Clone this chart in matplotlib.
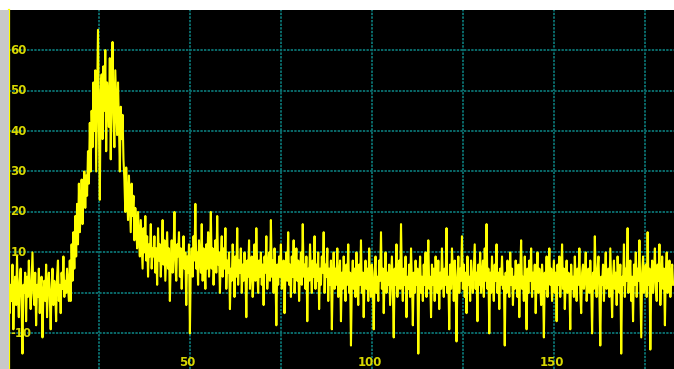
import matplotlib.pyplot as plt
from matplotlib.patches import Rectangle
import numpy as np

# sample spacing along x (four readings per unit)
step = 0.25

# x = 0 .. 17, flat noisy start
start = [0, 5, -5, 2, -2, 7, -9, 1, 4, -3, 9, -1, -6, 3, 6, -2, -15, 2, 0, 5,
         -7, 4, -1, 8, 1, -4, 3, 10, 0, -3, 5, -8, 2, -1, 6, -5, 1, 4, -11, 0,
         3, -2, 7, -6, 2, 5, -1, -9, 1, 6, -3, 3, 0, -7, 4, 8, -2, 2, -5, 5,
         1, 9, -1, 3, 0, 6, 2, -2]
# x = 17 .. 23, rising edge
rise = [8, -2, 12, 3, 15, 6, 19, 9, 22, 12, 27, 15, 20, 28, 17, 26, 30, 21, 29, 24,
        35, 27, 42, 30]
# x = 23 .. 32, main peak
peak = [45, 36, 52, 40, 55, 30, 48, 65, 42, 23, 50, 54, 38, 56, 45, 60, 35, 52, 48, 41,
        58, 33, 50, 62, 44, 36, 55, 47, 39, 52, 42, 30, 46, 38, 44, 33]
# x = 32 .. 40, falling edge
fall = [28, 20, 31, 24, 18, 29, 22, 15, 27, 19, 24, 13, 21, 17, 11, 20, 14, 9, 18, 12,
        6, 16, 10, 19, 8, 14, 4, 12, 9, 17, 6, 11]
# x = 40 .. 183, noisy tail
tail = [9, 14, 5, 11, 2, 16, 8, 12, 4, 10, 18, 7, 13, 3, 9, 15, 6, 11, -2, 8,
        13, 5, 10, 20, 7, 3, 12, 9, 15, 4, 11, 1, 8, 14, 6, 10, -3, 9, 5, 12,
        -10, 7, 11, 4, 14, 8, 22, 6, 10, 2, 13, 9, 5, 17, 3, 11, 7, 1, 12, 6,
        15, 4, 9, 20, 6, 11, 2, 8, 13, 5, 19, 7, 10, 0, 9, 14, 4, 11, 6, 16,
        1, 8, 5, 10, -4, 6, 3, 12, 7, -1, 9, 4, 16, 2, 8, 5, 11, 0, 7, 3,
        10, 6, -6, 8, 4, 13, 1, 7, 9, -1, 5, 12, 3, 16, 6, 0, 8, 4, 10, 2,
        7, -3, 9, 5, 14, 1, 6, 10, 3, 18, 4, 8, 0, 11, 5, -8, 7, 2, 9, 4,
        12, 1, 6, 8, -5, 5, 10, 3, 15, 2, 7, -1, 9, 4, 13, 0, 6, 11, 3, 8,
        -2, 5, 10, 2, 17, 4, 7, 1, 9, -7, 6, 3, 12, 5, 0, 8, 4, 14, 1, 7,
        3, 10, -4, 6, 2, 9, 5, 15, 0, 7, 4, 11, -2, 6, 2, 8, -9, 4, 10, 1,
        6, 2, 11, -1, 4, 8, -7, 5, 1, 9, 3, -2, 7, 2, 12, 0, 5, -13, 3, 8,
        1, 6, -1, 10, 3, -3, 7, 2, 13, 0, 5, -6, 4, 8, 1, 6, -2, 11, 3, -1,
        7, 2, -9, 5, 9, 0, 4, -2, 8, 3, 15, 1, 6, -5, 4, 10, 0, 5, 2, 7,
        -3, 3, 9, 1, -11, 6, 2, 12, -1, 5, 8, 1, 17, 3, -2, 6, 2, 9, -6, 4,
        1, 7, -1, 11, 3, -8, 5, 0, 8, 2, 6, -15, 3, 9, 0, 4, -2, 7, 2, 10,
        -1, 5, 13, 1, 4, -6, 7, 2, 6, -2, 9, 3, 0, 8, -4, 5, 1, 11, 3, -1,
        6, 2, 16, 0, 4, -9, 7, 1, 11, 5, -2, 8, 2, -12, 4, 9, 0, 6, 3, 14,
        1, 7, -1, 5, -5, 9, 2, 4, -2, 8, 3, 0, 6, 12, 1, 5, -7, 7, 2, 10,
        0, 4, 8, -1, 11, 3, 17, 1, 6, -10, 5, 0, 9, 2, -2, 7, 3, 12, 0, 5,
        -4, 6, 2, 9, 1, 4, -13, 5, 0, 8, 3, -1, 10, 2, 6, -3, 4, 1, 8, 3,
        -1, 7, -6, 5, 13, 1, 4, -2, 9, 2, -9, 6, 0, 8, 3, 11, -1, 5, 1, 7,
        -5, 4, 10, 0, 6, 2, -3, 7, 3, -11, 5, 1, 9, -1, 4, 11, 2, 6, -2, 3,
        8, 0, 5, -7, 7, 2, 9, -1, 4, 12, 1, 6, -4, 3, 8, 0, 5, 2, -9, 7,
        1, 4, -1, 9, 3, -2, 6, 2, 11, 0, -5, 5, 7, 1, 4, 10, -2, 3, 6, 0,
        8, 2, -10, 5, 1, 14, 3, -1, 6, 9, 0, -13, 4, 2, 7, -2, 5, 10, 1, 3,
        6, -1, 11, 2, -6, 4, 8, 1, 5, -3, 9, 3, 0, 7, -15, 4, 2, 12, -1, 6,
        3, 16, 0, 5, 8, -2, 4, -7, 7, 2, 10, -1, 6, 3, 13, 1, -11, 5, 9, 0,
        4, 7, -1, 15, 2, 6, -14, 3, 8, 0, 5, 11, 1, -2, 7, 3, 12, -3, 4, 9,
        1, 6, -8, 5, 10, 0, 3, 8, -1, 4, 7, 2]

x_ticks = [50, 100, 150]
x_grid = [25, 50, 75, 100, 125, 150, 175]
y_ticks = [-10, 0, 10, 20, 30, 40, 50, 60]

signal = np.array(start + rise + peak + fall + tail, dtype=float)
xs = np.arange(len(signal)) * step

W, H = 674, 369
fig = plt.figure(figsize=(W / 100, H / 100), dpi=100, facecolor='white')
# grey strip on the left edge of the window
fig.patches.append(Rectangle((0, 0), 9 / W, 359 / H, transform=fig.transFigure,
                             facecolor='#c8c8c8', edgecolor='none', zorder=0))

ax = fig.add_axes([9 / W, 0, 665 / W, 359 / H], facecolor='black')
ax.set_xlim(0.3, 183)
ax.set_ylim(-18.8, 69.9)

grid_col = '#0b7474'
for gx in x_grid:
    ax.axvline(gx, color=grid_col, lw=1.3, ls=(0, (1.3, 0.7)), zorder=1)
for gy in y_ticks:
    ax.axhline(gy, color=grid_col, lw=1.3, ls=(0, (1.3, 0.7)), zorder=1)

lab = dict(color='#d8d800', fontsize=8.5, fontweight='bold',
           fontfamily='DejaVu Sans', zorder=2)
for v in y_ticks:
    ax.text(0.7, v, str(v), ha='left', va='center', **lab)
for v in x_ticks:
    ax.text(v - 0.6, -17.2, str(v), ha='center', va='center', **lab)

ax.plot(xs, signal, color='#ffff00', lw=1.5, zorder=3)

ax.set_xticks([])
ax.set_yticks([])
for s in ['top', 'right', 'bottom']:
    ax.spines[s].set_visible(False)
ax.spines['left'].set_color('#ffff00')
ax.spines['left'].set_linewidth(1.6)

fig.savefig('out.png', dpi=100, facecolor=fig.get_facecolor())
